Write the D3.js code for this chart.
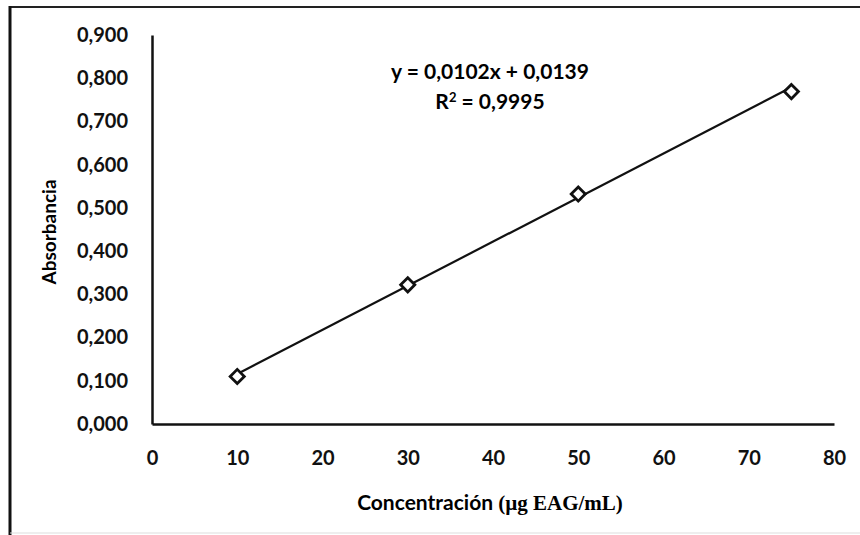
<!DOCTYPE html>
<html>
<head>
<meta charset="utf-8">
<script src="https://cdn.jsdelivr.net/npm/d3@7"></script>
<style>
  body { margin: 0; background: #fff; }
  svg { display: block; }
  .tick text { font-family: Lato, "Open Sans", sans-serif; font-weight: bold; font-size: 20px; fill: #111; }
</style>
</head>
<body>
<svg id="grafico" width="860" height="535"></svg>
<script>
// datos
const concentracion = [10, 30, 50, 75];
const absorbancia = [0.110, 0.322, 0.532, 0.769];
const ticksX = [0, 10, 20, 30, 40, 50, 60, 70, 80];
const ticksY = [0, 0.1, 0.2, 0.3, 0.4, 0.5, 0.6, 0.7, 0.8, 0.9];
const pendiente = 0.0102, intercepto = 0.0139;
const ecuacion = "y = 0,0102x + 0,0139";
const r2 = "0,9995";

const svg = d3.select("#grafico");

// marco exterior
svg.append("line").attr("x1", 10).attr("y1", 7).attr("x2", 860).attr("y2", 7)
  .attr("stroke", "#222").attr("stroke-width", 2);
svg.append("line").attr("x1", 10).attr("y1", 6).attr("x2", 10).attr("y2", 535)
  .attr("stroke", "#111").attr("stroke-width", 3);
svg.append("line").attr("x1", 10).attr("y1", 533).attr("x2", 860).attr("y2", 533)
  .attr("stroke", "#ddd").attr("stroke-width", 1);

// escalas
const x = d3.scaleLinear().domain([0, 80]).range([152, 834]);
const y = d3.scaleLinear().domain([0, 0.9]).range([424, 35]);

// ejes
const ejeY = svg.append("g").attr("transform", "translate(152,0)")
  .call(d3.axisLeft(y).tickValues(ticksY).tickSize(0).tickPadding(24)
    .tickFormat(d => d3.format(".3f")(d).replace(".", ",")));
ejeY.select(".domain").attr("stroke", "#111").attr("stroke-width", 2.5);

const ejeX = svg.append("g").attr("transform", "translate(0,424)")
  .call(d3.axisBottom(x).tickValues(ticksX).tickSize(0).tickPadding(27));
ejeX.select(".domain").attr("stroke", "#111").attr("stroke-width", 2.5);

// titulos de ejes
svg.append("text")
  .attr("transform", "translate(56,232) rotate(-90)")
  .attr("text-anchor", "middle")
  .style("font-family", "Lato, sans-serif").style("font-weight", "bold").style("font-size", "19px")
  .text("Absorbancia");

const tituloX = svg.append("text")
  .attr("x", 490).attr("y", 510)
  .attr("text-anchor", "middle")
  .style("font-weight", "bold").style("font-size", "21px");
tituloX.append("tspan").style("font-family", "Lato, sans-serif").text("Concentración ");
tituloX.append("tspan").style("font-family", "'Liberation Serif', serif").text("(µg EAG/mL)");

// linea de tendencia
svg.append("line")
  .attr("x1", x(concentracion[0])).attr("y1", y(pendiente * concentracion[0] + intercepto))
  .attr("x2", x(concentracion[3])).attr("y2", y(pendiente * concentracion[3] + intercepto))
  .attr("stroke", "#111").attr("stroke-width", 2.2);

// puntos (rombos)
svg.selectAll(".punto")
  .data(concentracion)
  .join("path")
  .attr("class", "punto")
  .attr("transform", (d, i) => `translate(${x(d)},${y(absorbancia[i])}) rotate(45)`)
  .attr("d", d3.symbol().type(d3.symbolSquare).size(100))
  .attr("fill", "#fff")
  .attr("stroke", "#111")
  .attr("stroke-width", 2.8);

// ecuacion
const eq = svg.append("text")
  .attr("text-anchor", "middle")
  .style("font-family", "Lato, sans-serif").style("font-weight", "bold").style("font-size", "21px");
eq.append("tspan").attr("x", 490).attr("y", 79).text(ecuacion);
const lineaR = eq.append("tspan").attr("x", 490).attr("y", 109).text("R");
lineaR.append("tspan").attr("dy", -7).style("font-size", "13px").text("2");
lineaR.append("tspan").attr("dy", 7).text(" = " + r2);
</script>
</body>
</html>
